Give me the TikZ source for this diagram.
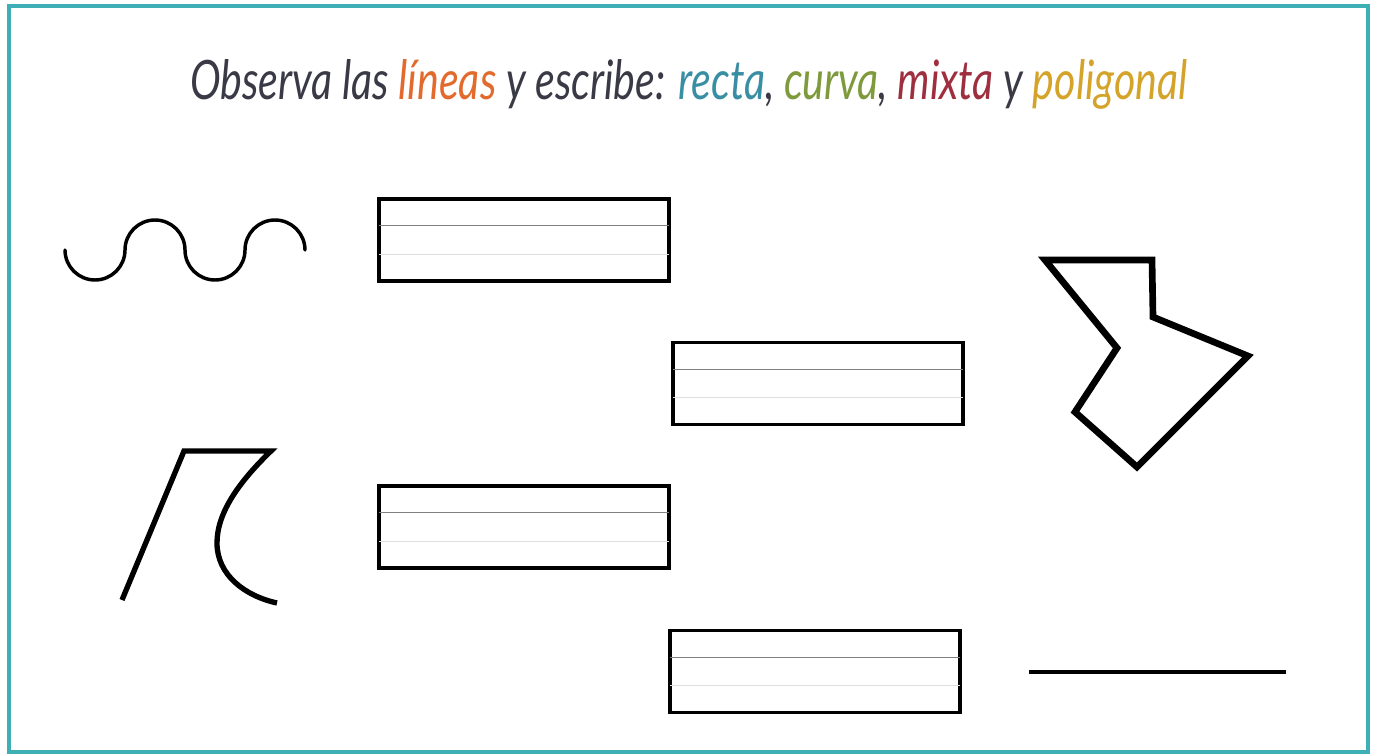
\documentclass[tikz,border=0pt]{standalone}
\usepackage{fontspec}
\usepackage{tikz}
\usetikzlibrary{calc,positioning}
\newfontfamily\titlefont{Lato}
\definecolor{frameteal}{RGB}{62,176,181}
\definecolor{inkdark}{RGB}{58,58,70}
\definecolor{inkorange}{RGB}{226,106,44}
\definecolor{inkteal}{RGB}{58,142,163}
\definecolor{inkgreen}{RGB}{126,154,60}
\definecolor{inkred}{RGB}{158,47,62}
\definecolor{inkgold}{RGB}{212,164,42}
\newcommand{\ink}[2]{\textcolor{#1}{#2}}

\begin{document}
\begin{tikzpicture}[x=0.75pt,y=-0.75pt,
    answerbox/.style={draw=black,line width=2.6pt,minimum width=217.5pt,
      minimum height=61.5pt,inner sep=0pt},
    guidedark/.style={draw=black!50,line width=1.1pt,shorten <=1.3pt,shorten >=1.3pt},
    guidelight/.style={draw=black!13,line width=1.1pt,shorten <=1.3pt,shorten >=1.3pt},
    figline/.style={draw=black,line width=2.6pt,line cap=round}]
  \useasboundingbox (0,0) rectangle (1377,756);
  \draw[frameteal,line width=3pt] (9,6.5) rectangle (1368,751.5);

  % title
  \node[inkdark] (title) at (689,84) {\titlefont\itshape\resizebox{748pt}{30pt}{%
      Observa las \ink{inkorange}{líneas} y escribe: \ink{inkteal}{recta},
      \ink{inkgreen}{curva}, \ink{inkred}{mixta} y \ink{inkgold}{poligonal}}};

  % answer boxes
  \node[answerbox] (box1) at (524,240)   {};
  \node[answerbox] (box2) at (818,383.5) {};
  \node[answerbox] (box3) at (524,527)   {};
  \node[answerbox] (box4) at (815,671.5) {};
  \foreach \b in {box1,box2,box3,box4} {
    \draw[guidedark]  ($(\b.north west)!1/3!(\b.south west)$) -- ($(\b.north east)!1/3!(\b.south east)$);
    \draw[guidelight] ($(\b.north west)!2/3!(\b.south west)$) -- ($(\b.north east)!2/3!(\b.south east)$);
  }

  % curve
  \coordinate (wave) at (65,250);
  \draw[figline] (wave) arc (180:0:30) arc (180:360:30) arc (180:0:30) arc (180:360:30);

  % mixed
  \coordinate (mixA) at (122,600);
  \coordinate (mixB) at (184,451);
  \coordinate (mixC) at (271,451);
  \coordinate (mixD) at (277,603);
  \draw[figline,line width=4pt,line cap=butt,line join=miter] (mixA) -- (mixB) -- (mixC)
    .. controls (240,481) and (217,512) .. (217,543)
    .. controls (217,575) and (245,596) .. (mixD);

  % polygonal
  \coordinate (polA) at (1045,260);
  \coordinate (polB) at (1152,260);
  \coordinate (polC) at (1153,317);
  \coordinate (polD) at (1248,356);
  \coordinate (polE) at (1137,467);
  \coordinate (polF) at (1075,412);
  \coordinate (polG) at (1117,348);
  \draw[black,line width=5pt,line join=miter]
    (polA) -- (polB) -- (polC) -- (polD) -- (polE) -- (polF) -- (polG) -- cycle;

  % straight
  \coordinate (lineL) at (1029,672);
  \coordinate (lineR) at (1286,672);
  \draw[black,line width=2.6pt] (lineL) -- (lineR);
\end{tikzpicture}
\end{document}
